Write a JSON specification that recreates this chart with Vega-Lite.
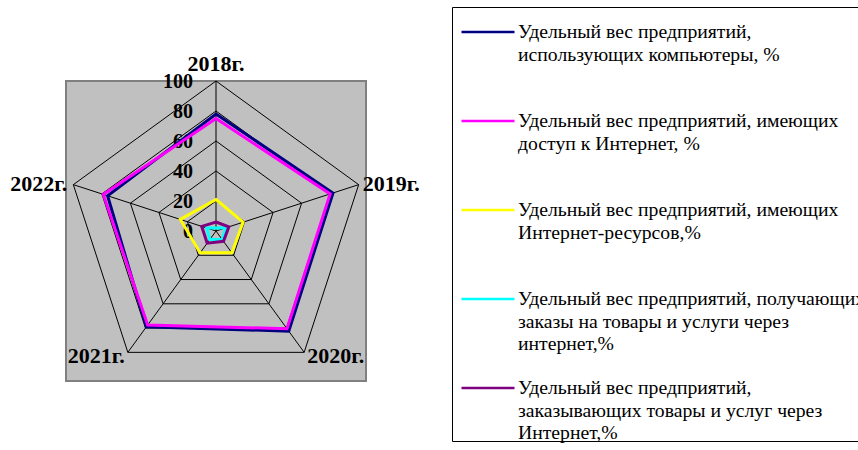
{
  "$schema": "https://vega.github.io/schema/vega-lite/v6.json",
  "width": 300,
  "height": 300,
  "autosize": {"type": "none"},
  "padding": {"left": 66, "top": 81, "right": 492, "bottom": 69},
  "background": "white",
  "config": {
    "view": {"fill": "#c0c0c0", "stroke": "#808080", "strokeWidth": 2},
    "style": {"guide-label": {"lineHeight": 22.7}}
  },
  "datasets": {
    "shares": [
      {"series": "Удельный вес предприятий, использующих компьютеры, %", "year": 2018, "value": 78},
      {"series": "Удельный вес предприятий, использующих компьютеры, %", "year": 2019, "value": 82},
      {"series": "Удельный вес предприятий, использующих компьютеры, %", "year": 2020, "value": 82.5},
      {"series": "Удельный вес предприятий, использующих компьютеры, %", "year": 2021, "value": 79},
      {"series": "Удельный вес предприятий, использующих компьютеры, %", "year": 2022, "value": 76},
      {"series": "Удельный вес предприятий, имеющих доступ к Интернет, %", "year": 2018, "value": 75},
      {"series": "Удельный вес предприятий, имеющих доступ к Интернет, %", "year": 2019, "value": 80},
      {"series": "Удельный вес предприятий, имеющих доступ к Интернет, %", "year": 2020, "value": 80.5},
      {"series": "Удельный вес предприятий, имеющих доступ к Интернет, %", "year": 2021, "value": 77.5},
      {"series": "Удельный вес предприятий, имеющих доступ к Интернет, %", "year": 2022, "value": 79},
      {"series": "Удельный вес предприятий, имеющих Интернет-ресурсов,%", "year": 2018, "value": 21},
      {"series": "Удельный вес предприятий, имеющих Интернет-ресурсов,%", "year": 2019, "value": 19},
      {"series": "Удельный вес предприятий, имеющих Интернет-ресурсов,%", "year": 2020, "value": 18},
      {"series": "Удельный вес предприятий, имеющих Интернет-ресурсов,%", "year": 2021, "value": 18},
      {"series": "Удельный вес предприятий, имеющих Интернет-ресурсов,%", "year": 2022, "value": 25},
      {"series": "Удельный вес предприятий, получающих заказы на товары и услуги через интернет,%", "year": 2018, "value": 2},
      {"series": "Удельный вес предприятий, получающих заказы на товары и услуги через интернет,%", "year": 2019, "value": 7},
      {"series": "Удельный вес предприятий, получающих заказы на товары и услуги через интернет,%", "year": 2020, "value": 7},
      {"series": "Удельный вес предприятий, получающих заказы на товары и услуги через интернет,%", "year": 2021, "value": 7},
      {"series": "Удельный вес предприятий, получающих заказы на товары и услуги через интернет,%", "year": 2022, "value": 6.5},
      {"series": "Удельный вес предприятий, заказывающих товары и услуг через Интернет,%", "year": 2018, "value": 6},
      {"series": "Удельный вес предприятий, заказывающих товары и услуг через Интернет,%", "year": 2019, "value": 9},
      {"series": "Удельный вес предприятий, заказывающих товары и услуг через Интернет,%", "year": 2020, "value": 8.5},
      {"series": "Удельный вес предприятий, заказывающих товары и услуг через Интернет,%", "year": 2021, "value": 10},
      {"series": "Удельный вес предприятий, заказывающих товары и услуг через Интернет,%", "year": 2022, "value": 10}
    ],
    "rings": [{"ring": 0}, {"ring": 20}, {"ring": 40}, {"ring": 60}, {"ring": 80}, {"ring": 100}],
    "years": [{"year": 2018}, {"year": 2019}, {"year": 2020}, {"year": 2021}, {"year": 2022}],
    "grid": [
      {"ring": 20, "year": 2018}, {"ring": 20, "year": 2019}, {"ring": 20, "year": 2020}, {"ring": 20, "year": 2021}, {"ring": 20, "year": 2022},
      {"ring": 40, "year": 2018}, {"ring": 40, "year": 2019}, {"ring": 40, "year": 2020}, {"ring": 40, "year": 2021}, {"ring": 40, "year": 2022},
      {"ring": 60, "year": 2018}, {"ring": 60, "year": 2019}, {"ring": 60, "year": 2020}, {"ring": 60, "year": 2021}, {"ring": 60, "year": 2022},
      {"ring": 80, "year": 2018}, {"ring": 80, "year": 2019}, {"ring": 80, "year": 2020}, {"ring": 80, "year": 2021}, {"ring": 80, "year": 2022},
      {"ring": 100, "year": 2018}, {"ring": 100, "year": 2019}, {"ring": 100, "year": 2020}, {"ring": 100, "year": 2021}, {"ring": 100, "year": 2022}
    ]
  },
  "layer": [
    {
      "data": {"name": "grid"},
      "transform": [
        {"calculate": "PI/2 - (datum.year-2018)*2*PI/5", "as": "ang"},
        {"calculate": "datum.ring*cos(datum.ang)", "as": "gx"},
        {"calculate": "datum.ring*sin(datum.ang)", "as": "gy"}
      ],
      "mark": {"type": "line", "interpolate": "linear-closed", "color": "black", "strokeWidth": 1},
      "encoding": {
        "x": {"field": "gx", "type": "quantitative", "scale": {"domain": [-100, 100]}, "axis": null},
        "y": {"field": "gy", "type": "quantitative", "scale": {"domain": [-100, 100]}, "axis": null},
        "detail": {"field": "ring", "type": "nominal"},
        "order": {"field": "year", "type": "quantitative"}
      }
    },
    {
      "data": {"name": "years"},
      "transform": [
        {"calculate": "PI/2 - (datum.year-2018)*2*PI/5", "as": "ang"},
        {"calculate": "0", "as": "cx"},
        {"calculate": "100*cos(datum.ang)", "as": "sx"},
        {"calculate": "100*sin(datum.ang)", "as": "sy"}
      ],
      "mark": {"type": "rule", "color": "black", "strokeWidth": 1},
      "encoding": {
        "x": {"field": "cx", "type": "quantitative", "scale": {"domain": [-100, 100]}, "axis": null},
        "y": {"field": "cx", "type": "quantitative", "scale": {"domain": [-100, 100]}, "axis": null},
        "x2": {"field": "sx"},
        "y2": {"field": "sy"}
      }
    },
    {
      "data": {"name": "rings"},
      "transform": [{"calculate": "0", "as": "cx"}],
      "mark": {"type": "text", "align": "right", "baseline": "middle", "dx": -23, "dy": 1, "font": "Liberation Serif", "fontWeight": "bold", "fontSize": 20, "color": "black"},
      "encoding": {
        "x": {"field": "cx", "type": "quantitative", "scale": {"domain": [-100, 100]}, "axis": null},
        "y": {"field": "ring", "type": "quantitative", "scale": {"domain": [-100, 100]}, "axis": null},
        "text": {"field": "ring", "type": "quantitative"}
      }
    },
    {
      "data": {"name": "shares"},
      "transform": [
        {"calculate": "PI/2 - (datum.year-2018)*2*PI/5", "as": "ang"},
        {"calculate": "datum.value*cos(datum.ang)", "as": "px"},
        {"calculate": "datum.value*sin(datum.ang)", "as": "py"}
      ],
      "mark": {"type": "line", "interpolate": "linear-closed", "strokeWidth": 3},
      "encoding": {
        "x": {"field": "px", "type": "quantitative", "scale": {"domain": [-100, 100]}, "axis": null},
        "y": {"field": "py", "type": "quantitative", "scale": {"domain": [-100, 100]}, "axis": null},
        "order": {"field": "year", "type": "quantitative"},
        "color": {
          "field": "series",
          "type": "nominal",
          "scale": {
            "domain": [
              "Удельный вес предприятий, использующих компьютеры, %",
              "Удельный вес предприятий, имеющих доступ к Интернет, %",
              "Удельный вес предприятий, имеющих Интернет-ресурсов,%",
              "Удельный вес предприятий, получающих заказы на товары и услуги через интернет,%",
              "Удельный вес предприятий, заказывающих товары и услуг через Интернет,%"
            ],
            "range": ["#000080", "#ff00ff", "#ffff00", "#00ffff", "#800080"]
          },
          "legend": {
            "title": null,
            "orient": "none",
            "legendX": 386,
            "legendY": -74,
            "symbolType": "stroke",
            "symbolSize": 2809,
            "symbolStrokeWidth": 2.5,
            "symbolOffset": 11,
            "labelFont": "Liberation Serif",
            "labelFontSize": 19.7,
            "labelColor": "black",
            "labelLimit": 1000,
            "labelOffset": 2,
            "labelBaseline": "middle",
            "strokeColor": "black",
            "fillColor": "white",
            "padding": -3,
            "rowPadding": 5,
            "gridAlign": "all",
            "labelExpr": "indexof(datum.label,'компьютеры')>=0 ? ['Удельный вес предприятий,','использующих компьютеры, %'] : indexof(datum.label,'доступ')>=0 ? ['Удельный вес предприятий, имеющих','доступ к Интернет, %'] : indexof(datum.label,'ресурсов')>=0 ? ['Удельный вес предприятий, имеющих','Интернет-ресурсов,%'] : indexof(datum.label,'получающих')>=0 ? ['Удельный вес предприятий, получающих','заказы на товары и услуги через','интернет,%'] : ['Удельный вес предприятий,','заказывающих товары и услуг через','Интернет,%']"
          }
        }
      }
    },
    {
      "data": {"name": "years"},
      "transform": [
        {"calculate": "datum.year-2018", "as": "i"},
        {"calculate": "PI/2 - datum.i*2*PI/5", "as": "ang"},
        {"calculate": "100*cos(datum.ang)", "as": "vx"},
        {"calculate": "100*sin(datum.ang)", "as": "vy"},
        {"calculate": "datum.year + 'г.'", "as": "lbl"}
      ],
      "mark": {
        "type": "text",
        "baseline": "middle",
        "align": {"expr": "datum.i == 0 ? 'center' : (datum.i <= 2 ? 'left' : 'right')"},
        "dx": {"expr": "[0, 4, 3, -3, -6][datum.i]"},
        "dy": {"expr": "[-17, -1, 4, 4, -1][datum.i]"},
        "font": "Liberation Serif",
        "fontWeight": "bold",
        "fontSize": 22,
        "color": "black"
      },
      "encoding": {
        "x": {"field": "vx", "type": "quantitative", "scale": {"domain": [-100, 100]}, "axis": null},
        "y": {"field": "vy", "type": "quantitative", "scale": {"domain": [-100, 100]}, "axis": null},
        "text": {"field": "lbl", "type": "nominal"}
      }
    }
  ]
}
